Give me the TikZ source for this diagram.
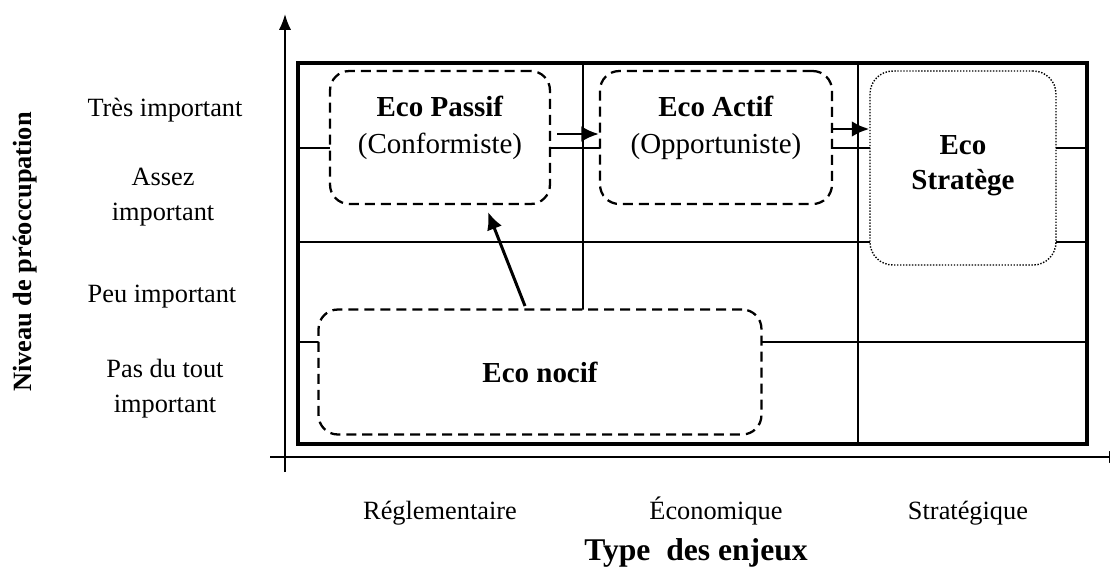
\documentclass[tikz,border=0pt]{standalone}
\usepackage{fontspec}
\setmainfont{Liberation Serif}
\usetikzlibrary{arrows.meta, calc, positioning}

\tikzset{
  grid/.style={line width=0.85pt},
  frame/.style={line width=2pt},
  axis/.style={line width=1.1pt, -{Latex[length=9pt,width=7pt]}},
  flow/.style={line width=1.7pt, -{Latex[length=10pt,width=9pt]}},
  ecobox/.style={draw, fill=white, line width=1.3pt, dash pattern=on 5.7pt off 3.4pt, rounded corners=11pt, inner sep=0pt},
  stratbox/.style={draw, fill=white, line width=0.8pt, dash pattern=on 0.8pt off 0.9pt, rounded corners=13pt, inner sep=0pt},
  lvl/.style={align=center, font=\fontsize{15}{19.8}\selectfont},
  enjeu/.style={anchor=base, font=\fontsize{15}{18}\selectfont},
  boxtxt/.style={align=center, font=\fontsize{16.5}{21}\selectfont}
}

\begin{document}
\begin{tikzpicture}[x=0.02cm, y=-0.02cm]
  \useasboundingbox (0,0) rectangle (1110,575);

  % grid of the matrix
  \draw[grid] (298,148) -- (1087,148);
  \draw[grid] (298,242) -- (1087,242);
  \draw[grid] (298,342) -- (1087,342);
  \draw[grid] (583,63) -- (583,320);
  \draw[grid] (858,63) -- (858,444);
  \draw[frame] (298,63) rectangle (1087,444);

  % axes
  \coordinate (o-v) at (285,472);
  \coordinate (e-v) at (285,14);
  \coordinate (o-h) at (270,457);
  \coordinate (e-h) at (1125,457);
  \draw[axis] (o-v) -- (e-v);
  \draw[axis] (o-h) -- (e-h);

  % zones
  \node[ecobox, minimum width=4.4cm, minimum height=2.66cm] (passif) at (440,137.5) {};
  \node[ecobox, minimum width=4.64cm, minimum height=2.66cm] (actif) at (716,137.5) {};
  \node[stratbox, minimum width=3.72cm, minimum height=3.88cm] (strat) at (963,168) {};
  \node[ecobox, minimum width=8.86cm, minimum height=2.5cm, font=\fontsize{16.5}{21}\selectfont\bfseries] (nocif) at (540,372) {Eco nocif};

  \node[boxtxt] (passif-t) at (440,128) {\textbf{Eco Passif}\\(Conformiste)};
  \node[boxtxt] (actif-t) at (716,128) {\textbf{Eco Actif}\\(Opportuniste)};
  \node[boxtxt, font=\fontsize{16.5}{20}\selectfont\bfseries] (strat-t) at (963,166) {Eco\\Stratège};

  % transitions
  \coordinate (p2a) at (557,134);
  \coordinate (a2s) at (833,129);
  \coordinate (n2p-a) at (525,306);
  \coordinate (n2p-b) at (488,212);
  \draw[flow] (p2a) -- (p2a -| actif.west);
  \draw[flow] (a2s) -- (a2s -| strat.west);
  \draw[flow] (n2p-a) -- (n2p-b);

  % levels
  \node[lvl] (l1) at (165,110) {Très important};
  \node[lvl] (l2) at (163,197) {Assez\\important};
  \node[lvl] (l3) at (162,297) {Peu important};
  \node[lvl] (l4) at (165,389) {Pas du tout\\important};
  \node[rotate=90, font=\fontsize{15}{18}\selectfont\bfseries] (ylab) at (25,252) {Niveau de préoccupation};

  % stakes
  \node[enjeu] (e1) at (440,519) {Réglementaire};
  \node[enjeu] (e2) at (716,519) {Économique};
  \node[enjeu] (e3) at (968,519) {Stratégique};
  \node[font=\fontsize{18}{22}\selectfont\bfseries] (xlab) at (696,553) {Type\ \ des enjeux};
\end{tikzpicture}
\end{document}
